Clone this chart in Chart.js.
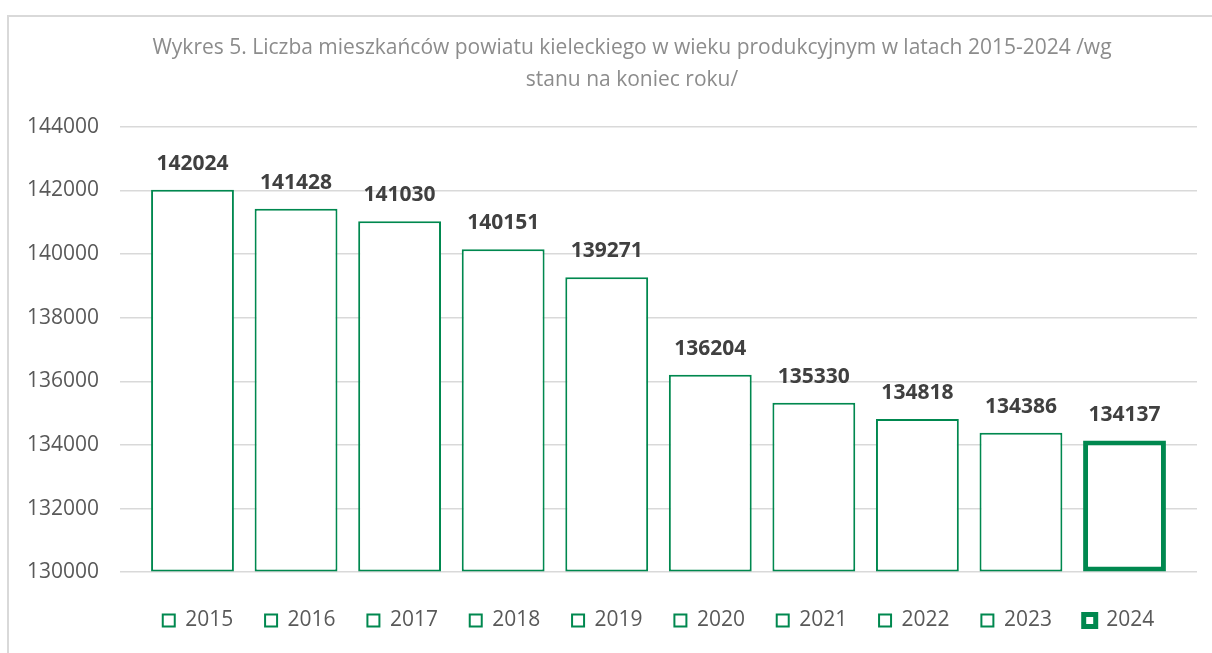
<!DOCTYPE html>
<html>
<head>
<meta charset="utf-8">
<script src="https://cdn.jsdelivr.net/npm/chart.js@4"></script>
<style>
  html, body { margin: 0; padding: 0; background: #fff; overflow: hidden; }
  #ramka { position: absolute; left: 7px; top: 15px; width: 1246px; height: 700px; border: 2px solid #d9d9d9; }
  #wykres { position: absolute; left: 0; top: 0; }
</style>
</head>
<body>
<div id="ramka"><canvas id="wykres" width="1246" height="624"></canvas></div>
<script>
const lata = ['2015', '2016', '2017', '2018', '2019', '2020', '2021', '2022', '2023', '2024']
const mieszkancy = [142024, 141428, 141030, 140151, 139271, 136204, 135330, 134818, 134386, 134137]
const osY = [130000, 132000, 134000, 136000, 138000, 140000, 142000, 144000]

const zielony = '#00884f'
const ostatni = lata.length - 1

Chart.defaults.font.family = '"Open Sans"'

// etykiety nad slupkami
const etykiety = {
    id: 'etykiety',
    afterDatasetsDraw(chart) {
        const ctx = chart.ctx
        const meta = chart.getDatasetMeta(0)
        ctx.save()
        ctx.font = 'bold 21px "Open Sans"'
        ctx.fillStyle = '#404040'
        ctx.textAlign = 'center'
        ctx.textBaseline = 'middle'
        meta.data.forEach((bar, i) => {
            ctx.fillText(mieszkancy[i], bar.x, bar.y - 26)
        })
        ctx.restore()
    }
}

function criarWykres() {
    const ctx = document.getElementById('wykres').getContext('2d')

    new Chart(ctx, {
        type: 'bar',
        data: {
            datasets: [{
                data: lata.map((rok, i) => ({ x: Number(rok), y: mieszkancy[i] })),
                base: osY[0],
                backgroundColor: '#ffffff',
                borderColor: zielony,
                borderWidth: lata.map((r, i) => i === ostatni ? 5 : 2),
                borderSkipped: false,
                categoryPercentage: 0.8,
                barPercentage: 1.0
            }]
        },
        plugins: [etykiety],
        options: {
            responsive: false,
            maintainAspectRatio: false,
            animation: false,
            devicePixelRatio: 1,
            layout: { padding: 0 },
            scales: {
                x: {
                    type: 'linear',
                    offset: false,
                    min: Number(lata[0]) - 0.7,
                    max: Number(lata[ostatni]) + 0.7,
                    afterBuildTicks: s => { s.ticks = lata.map(r => ({ value: Number(r) })) },
                    ticks: { display: false },
                    grid: { display: false },
                    border: { display: false },
                    afterFit: s => { s.height = 6 }
                },
                y: {
                    min: osY[0],
                    max: osY[osY.length - 1],
                    afterBuildTicks: s => { s.ticks = osY.map(v => ({ value: v })) },
                    afterFit: s => { s.width = 111 },
                    ticks: {
                        color: '#595959',
                        font: { size: 21 },
                        padding: 21,
                        callback: v => String(v)
                    },
                    grid: { color: '#d9d9d9', lineWidth: 1.5, drawTicks: false },
                    border: { display: false }
                },
                // pusta os po prawej, tylko zeby zostawic margines
                prawa: {
                    type: 'linear',
                    position: 'right',
                    ticks: { display: false },
                    grid: { display: false },
                    border: { display: false },
                    afterFit: s => { s.width = 58 }
                }
            },
            plugins: {
                title: {
                    display: true,
                    text: ['Wykres 5. Liczba mieszkańców powiatu kieleckiego w wieku produkcyjnym w latach 2015-2024 /wg', 'stanu na koniec roku/'],
                    color: '#8c8c8c',
                    font: { size: 21, weight: 'normal', lineHeight: 1.52 },
                    padding: { top: 15, bottom: 31 }
                },
                legend: {
                    position: 'bottom',
                    fullSize: false,
                    onClick: null,
                    labels: {
                        boxWidth: 12,
                        boxHeight: 12,
                        padding: 31.8,
                        color: '#595959',
                        font: { size: 21 },
                        generateLabels: () => lata.map((rok, i) => ({
                            text: rok,
                            fillStyle: '#ffffff',
                            strokeStyle: zielony,
                            lineWidth: i === ostatni ? 5 : 2,
                            fontColor: '#595959',
                            hidden: false,
                            index: i
                        }))
                    }
                },
                tooltip: { enabled: false }
            }
        }
    })
}

criarWykres()
</script>
</body>
</html>
